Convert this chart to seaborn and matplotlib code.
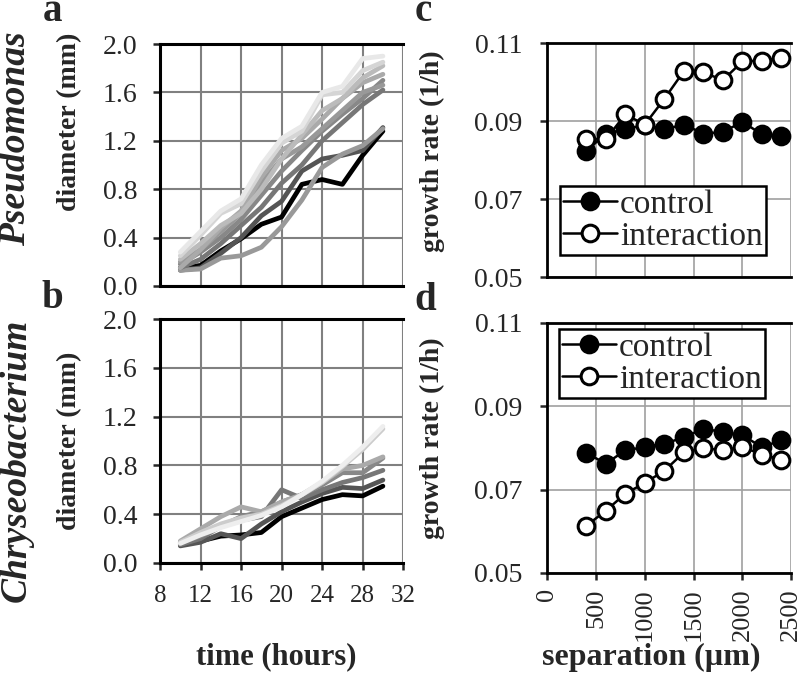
import numpy as np
import pandas as pd
from matplotlib import pyplot as plt
from matplotlib.ticker import MultipleLocator, FixedLocator
import seaborn as sns

sns.set_theme(style="white")
plt.rcParams['font.family'] = ['Liberation Serif', 'DejaVu Serif']

# --- colony diameters (mm) vs time (hours) ---
times = [10, 12, 14, 16, 18, 20, 22, 24, 26, 28, 30]

pseudo_1 = [0.15, 0.17, 0.29, 0.39, 0.51, 0.57, 0.84, 0.88, 0.84, 1.08, 1.28]
pseudo_2 = [0.13, 0.15, 0.27, 0.40, 0.58, 0.70, 0.95, 1.05, 1.08, 1.12, 1.31]
pseudo_3 = [0.13, 0.14, 0.23, 0.25, 0.32, 0.49, 0.71, 0.98, 1.09, 1.16, 1.30]
pseudo_4 = [0.15, 0.22, 0.35, 0.50, 0.65, 0.85, 1.00, 1.20, 1.35, 1.50, 1.62]
pseudo_5 = [0.18, 0.28, 0.40, 0.55, 0.75, 0.95, 1.12, 1.28, 1.42, 1.55, 1.70]
pseudo_6 = [0.20, 0.30, 0.45, 0.60, 0.85, 1.05, 1.15, 1.30, 1.45, 1.60, 1.66]
pseudo_7 = [0.15, 0.30, 0.48, 0.62, 0.90, 1.12, 1.22, 1.38, 1.55, 1.68, 1.75]
pseudo_8 = [0.22, 0.35, 0.50, 0.60, 0.80, 1.05, 1.25, 1.45, 1.55, 1.72, 1.82]
pseudo_9 = [0.25, 0.42, 0.60, 0.68, 0.95, 1.18, 1.28, 1.58, 1.60, 1.78, 1.85]
pseudo_10 = [0.28, 0.45, 0.62, 0.72, 1.00, 1.22, 1.32, 1.60, 1.65, 1.88, 1.90]
pseudo_grays = ['#000000', '#555555', '#999999', '#777777', '#888888', '#999999',
                '#aaaaaa', '#bbbbbb', '#d5d5d5', '#e8e8e8']

chryseo_1 = [0.16, 0.18, 0.22, 0.23, 0.25, 0.38, 0.45, 0.52, 0.56, 0.55, 0.63]
chryseo_2 = [0.14, 0.17, 0.24, 0.20, 0.32, 0.42, 0.50, 0.57, 0.62, 0.61, 0.68]
chryseo_3 = [0.15, 0.20, 0.30, 0.35, 0.38, 0.60, 0.53, 0.60, 0.66, 0.70, 0.76]
chryseo_4 = [0.17, 0.22, 0.30, 0.38, 0.42, 0.50, 0.56, 0.64, 0.74, 0.74, 0.86]
chryseo_5 = [0.18, 0.28, 0.38, 0.46, 0.42, 0.50, 0.56, 0.66, 0.77, 0.80, 0.87]
chryseo_6 = [0.17, 0.25, 0.32, 0.37, 0.40, 0.47, 0.56, 0.66, 0.79, 0.93, 1.10]
chryseo_7 = [0.16, 0.23, 0.29, 0.34, 0.39, 0.46, 0.56, 0.67, 0.80, 0.95, 1.12]
chryseo_grays = ['#000000', '#555555', '#777777', '#888888', '#aaaaaa',
                 '#cccccc', '#eeeeee']

# --- growth rate (1/h) vs separation (um) ---
separation = [400, 600, 800, 1000, 1200, 1400, 1600, 1800, 2000, 2200, 2400]
pseudo_control = [0.0823, 0.0868, 0.0879, 0.0890, 0.0879, 0.0891, 0.0868,
                  0.0872, 0.0898, 0.0866, 0.0862]
pseudo_interaction = [0.0855, 0.0853, 0.0917, 0.0891, 0.0957, 0.1028, 0.1025,
                      0.1005, 0.1053, 0.1055, 0.1063]
chryseo_control = [0.0788, 0.0762, 0.0794, 0.0802, 0.0810, 0.0825, 0.0846,
                   0.0838, 0.0830, 0.0802, 0.0818]
chryseo_interaction = [0.0613, 0.0649, 0.0690, 0.0716, 0.0745, 0.0789, 0.0800,
                       0.0794, 0.0802, 0.0784, 0.0772]
rate_ticks = [0.05, 0.07, 0.09, 0.11]


def long_frame(series):
    rows = []
    for i, ys in enumerate(series):
        for t, d in zip(times, ys):
            rows.append({"colony": f"c{i}", "time": t, "diameter": d})
    return pd.DataFrame(rows)


fig = plt.figure(figsize=(8, 6.74), dpi=100)
ax_a = fig.add_axes([0.2, 0.5757, 0.304, 0.359])
ax_b = fig.add_axes([0.2, 0.1647, 0.304, 0.362])
ax_c = fig.add_axes([0.684, 0.589, 0.305, 0.347])
ax_d = fig.add_axes([0.684, 0.150, 0.305, 0.371])

tick_font = 20
label_font = 20


def diameter_panel(ax, series, grays, show_x):
    df = long_frame(series)
    pal = {f"c{i}": g for i, g in enumerate(grays)}
    sns.lineplot(data=df, x="time", y="diameter", hue="colony", palette=pal,
                 linewidth=3.4, legend=False, ax=ax, zorder=3)
    ax.set_xlim(8, 32)
    ax.set_ylim(0, 2.0)
    ax.xaxis.set_major_locator(MultipleLocator(4))
    ax.yaxis.set_major_locator(MultipleLocator(0.4))
    ax.yaxis.set_major_formatter(plt.FormatStrFormatter('%.1f'))
    ax.grid(True, color='#808080', linewidth=1.5)
    for g in ax.xaxis.get_gridlines()[-1:] + ax.yaxis.get_gridlines()[-1:]:
        g.set_visible(False)
    for s in ['left', 'top', 'bottom']:
        ax.spines[s].set_color('black')
        ax.spines[s].set_linewidth(2.2)
    ax.spines['right'].set_visible(False)
    ax.tick_params(axis='y', direction='out', length=5, width=1.8, left=True,
                   labelsize=tick_font, pad=11)
    if show_x:
        ax.tick_params(axis='x', direction='out', length=5, width=1.8,
                       bottom=True, labelsize=18, pad=11)
    else:
        ax.tick_params(axis='x', bottom=False, labelbottom=False)
    ax.set_xlabel("")
    ax.set_ylabel("diameter (mm)", fontsize=label_font, fontweight='bold')


diameter_panel(ax_a, [pseudo_1, pseudo_2, pseudo_3, pseudo_4, pseudo_5, pseudo_6,
                      pseudo_7, pseudo_8, pseudo_9, pseudo_10], pseudo_grays, False)
diameter_panel(ax_b, [chryseo_1, chryseo_2, chryseo_3, chryseo_4, chryseo_5,
                      chryseo_6, chryseo_7], chryseo_grays, True)
ax_a.yaxis.set_label_coords(-0.32, 0.68)
ax_b.yaxis.set_label_coords(-0.32, 0.5)
ax_b.set_xlabel("time (hours)", fontsize=22, fontweight='bold')
ax_b.xaxis.set_label_coords(0.48, -0.325)


def rate_panel(ax, control, interaction, show_x, legend_loc, anchor):
    kw = dict(marker='o', markersize=12, markeredgewidth=2.2,
              markeredgecolor='black', color='black', linewidth=1.8, zorder=3)
    sns.lineplot(x=separation, y=control, ax=ax, markerfacecolor='black',
                 label='control', **kw)
    sns.lineplot(x=separation, y=interaction, ax=ax, markerfacecolor='white',
                 label='interaction', **kw)
    ax.set_xlim(0, 2500)
    ax.set_ylim(0.05, 0.11)
    ax.xaxis.set_major_locator(MultipleLocator(500))
    ax.yaxis.set_major_locator(FixedLocator(rate_ticks))
    ax.yaxis.set_major_formatter(plt.FormatStrFormatter('%.2f'))
    ax.grid(True, color='#a0a0a0', linewidth=1.2)
    for g in ax.xaxis.get_gridlines()[-1:] + ax.yaxis.get_gridlines()[-1:]:
        g.set_visible(False)
    for s in ['left', 'top', 'bottom']:
        ax.spines[s].set_color('black')
        ax.spines[s].set_linewidth(2.0)
    ax.spines['right'].set_visible(False)
    ax.tick_params(axis='y', direction='out', length=5, width=1.8, left=True,
                   labelsize=tick_font, pad=13)
    if show_x:
        ax.tick_params(axis='x', direction='out', length=5, width=1.8,
                       bottom=True, labelsize=19, pad=6, labelrotation=90)
    else:
        ax.tick_params(axis='x', bottom=False, labelbottom=False)
    ax.set_ylabel("growth rate (1/h)", fontsize=label_font, fontweight='bold')
    ax.yaxis.set_label_coords(-0.418, 0.54)
    leg = ax.legend(loc=legend_loc, bbox_to_anchor=anchor, borderaxespad=0,
                    fontsize=24, frameon=True, fancybox=False, framealpha=1,
                    edgecolor='black', handlelength=1.6, handletextpad=0.1,
                    labelspacing=0.05, borderpad=0.1)
    leg.get_frame().set_linewidth(1.8)
    leg.set_zorder(5)


rate_panel(ax_c, pseudo_control, pseudo_interaction, False, 'lower left',
           (0.053, 0.094))
rate_panel(ax_d, chryseo_control, chryseo_interaction, True, 'upper left',
           (0.049, 0.976))
ax_d.set_xlabel("separation (µm)", fontsize=23, fontweight='bold')
ax_d.xaxis.set_label_coords(0.426, -0.28)

# species names and panel letters
fig.text(0.02, 1 - 139 / 674, "Pseudomonas", rotation=90, fontsize=27,
         fontweight='bold', fontstyle='italic', ha='center', va='center')
fig.text(0.02, 1 - 460 / 674, "Chryseobacterium", rotation=90, fontsize=27,
         fontweight='bold', fontstyle='italic', ha='center', va='center')
for letter, (px, py) in zip("abcd", [(52, 21), (52, 308), (423, 21), (425, 310)]):
    fig.text(px / 800, 1 - py / 674, letter, fontsize=28, fontweight='bold',
             ha='center', va='baseline')

fig.savefig("out.png", dpi=100)
